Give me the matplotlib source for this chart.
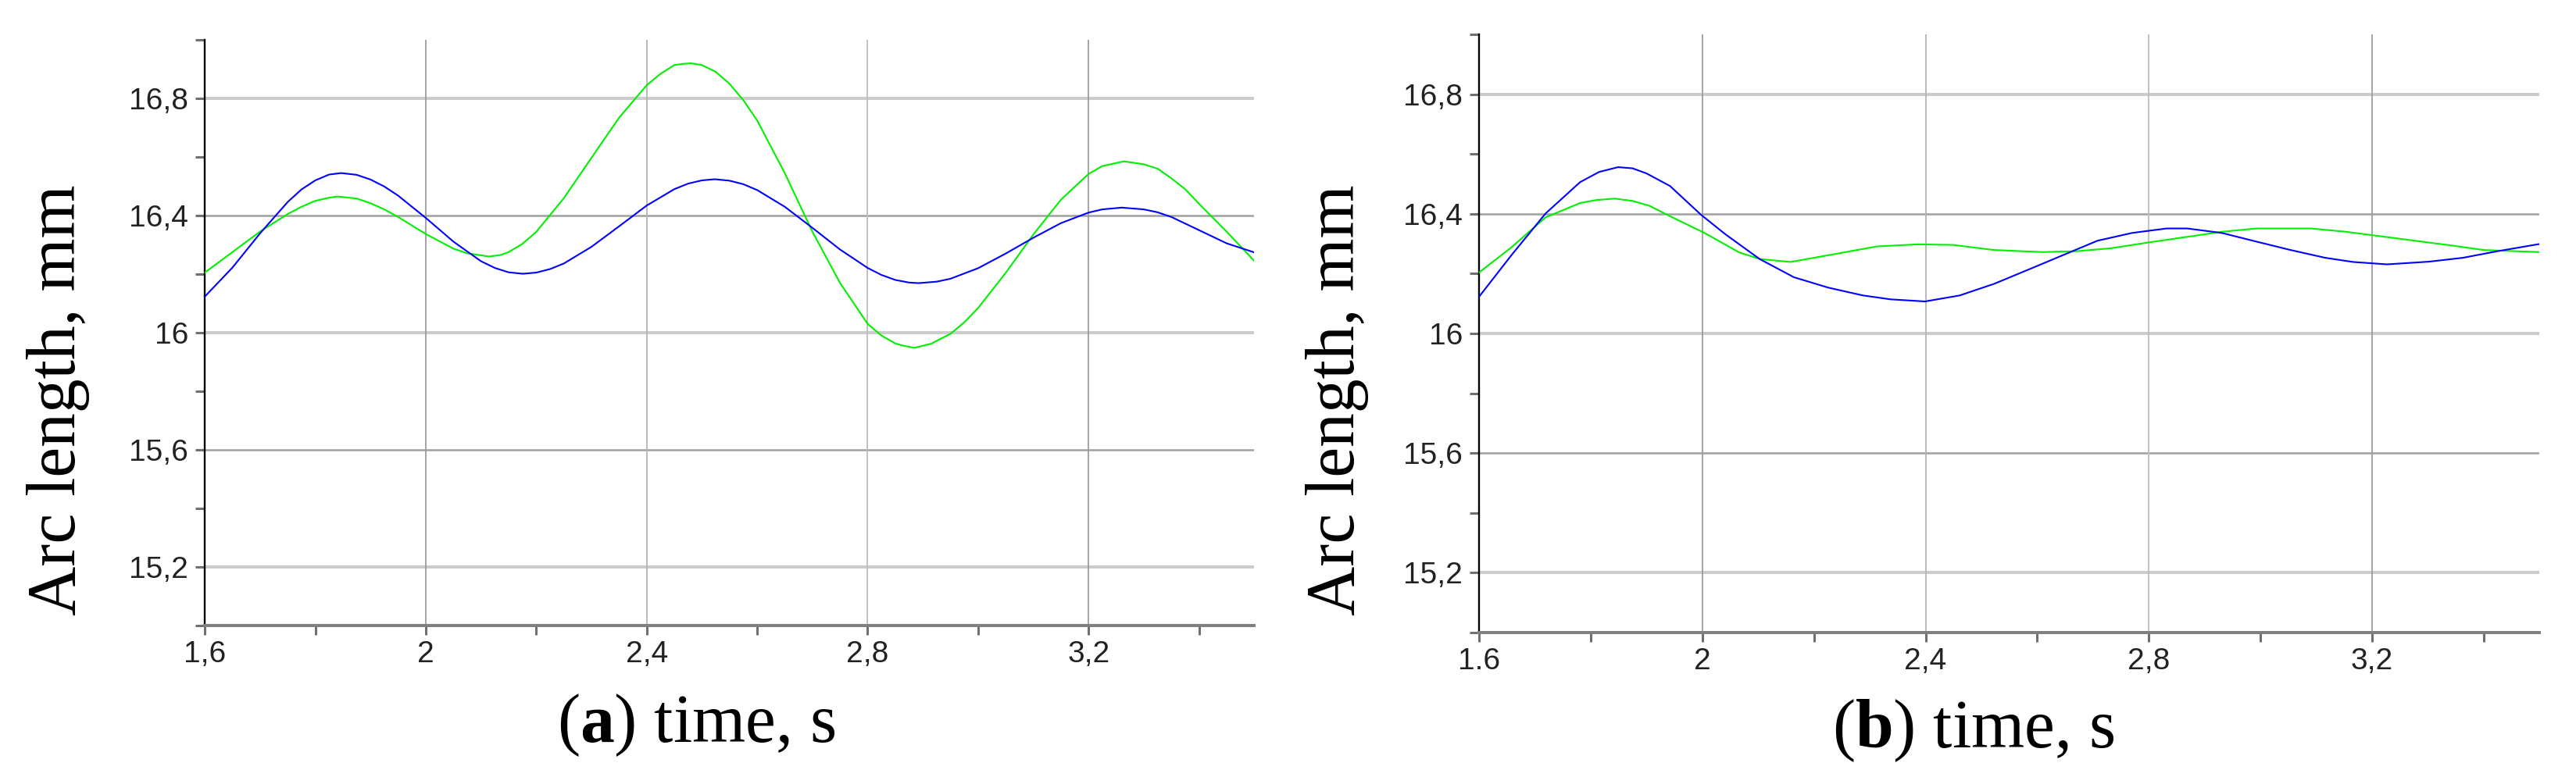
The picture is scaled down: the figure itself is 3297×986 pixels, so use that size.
import matplotlib.pyplot as plt

plt.rcParams['font.family'] = 'Liberation Sans'
plt.rcParams['mathtext.fontset'] = 'custom'
plt.rcParams['mathtext.rm'] = 'Liberation Serif'
plt.rcParams['mathtext.bf'] = 'Liberation Serif:bold'

# ---- panel (a) ----
t_blue_a = [1.60, 1.65, 1.70, 1.75, 1.775, 1.80, 1.825, 1.847, 1.875, 1.90, 1.925, 1.95, 2.00,
            2.05, 2.10, 2.125, 2.15, 2.176, 2.20, 2.225, 2.25, 2.30, 2.35, 2.40, 2.45, 2.475,
            2.50, 2.523, 2.55, 2.575, 2.60, 2.65, 2.70, 2.75, 2.80, 2.825, 2.85, 2.875, 2.892,
            2.925, 2.95, 3.00, 3.05, 3.10, 3.15, 3.20, 3.225, 3.26, 3.30, 3.325, 3.35, 3.40,
            3.45, 3.50]
blue_a = [16.123, 16.222, 16.339, 16.446, 16.489, 16.520, 16.540, 16.545, 16.539, 16.523,
          16.499, 16.468, 16.392, 16.311, 16.244, 16.221, 16.206, 16.201, 16.205, 16.217,
          16.236, 16.293, 16.363, 16.434, 16.490, 16.509, 16.520, 16.524, 16.519, 16.507,
          16.487, 16.430, 16.358, 16.284, 16.221, 16.197, 16.180, 16.171, 16.169, 16.174,
          16.184, 16.220, 16.270, 16.324, 16.374, 16.410, 16.421, 16.427, 16.421, 16.411,
          16.395, 16.350, 16.305, 16.274]

t_green_a = [1.60, 1.65, 1.70, 1.75, 1.775, 1.80, 1.825, 1.841, 1.875, 1.90, 1.925, 1.95, 2.00,
             2.05, 2.075, 2.115, 2.135, 2.15, 2.175, 2.20, 2.25, 2.30, 2.35, 2.40, 2.425, 2.45,
             2.465, 2.48, 2.50, 2.525, 2.55, 2.575, 2.60, 2.65, 2.70, 2.75, 2.80, 2.825, 2.85,
             2.865, 2.885, 2.915, 2.95, 2.975, 3.00, 3.05, 3.10, 3.15, 3.20, 3.225, 3.264, 3.30,
             3.325, 3.35, 3.375, 3.40, 3.45, 3.50]
green_a = [16.205, 16.275, 16.345, 16.405, 16.430, 16.450, 16.461, 16.465, 16.458, 16.442,
           16.421, 16.395, 16.337, 16.287, 16.271, 16.260, 16.265, 16.275, 16.303, 16.344,
           16.459, 16.597, 16.734, 16.845, 16.884, 16.914, 16.918, 16.920, 16.914, 16.891,
           16.850, 16.794, 16.725, 16.545, 16.345, 16.170, 16.030, 15.990, 15.963, 15.955,
           15.948, 15.962, 15.996, 16.035, 16.084, 16.204, 16.335, 16.454, 16.542, 16.569,
           16.585, 16.575, 16.560, 16.527, 16.490, 16.440, 16.345, 16.245]

# ---- panel (b) ----
t_blue_b = [1.60, 1.658, 1.719, 1.781, 1.815, 1.849, 1.875, 1.90, 1.942, 1.9975, 2.041, 2.1025,
            2.164, 2.226, 2.288, 2.3375, 2.399, 2.461, 2.523, 2.585, 2.6465, 2.708, 2.770,
            2.832, 2.869, 2.931, 2.993, 3.054, 3.116, 3.166, 3.227, 3.302, 3.363, 3.425, 3.50]
blue_b = [16.123, 16.262, 16.401, 16.506, 16.540, 16.556, 16.552, 16.535, 16.493, 16.397,
          16.332, 16.249, 16.188, 16.153, 16.127, 16.114, 16.107, 16.127, 16.166, 16.214,
          16.262, 16.310, 16.336, 16.351, 16.351, 16.336, 16.307, 16.279, 16.253, 16.239,
          16.231, 16.240, 16.253, 16.275, 16.299]

t_green_b = [1.60, 1.658, 1.719, 1.781, 1.81, 1.843, 1.875, 1.905, 1.942, 2.004, 2.066, 2.1025,
             2.158, 2.239, 2.313, 2.387, 2.449, 2.523, 2.609, 2.671, 2.733, 2.795, 2.869, 2.931,
             2.993, 3.091, 3.153, 3.215, 3.277, 3.339, 3.400, 3.50]
green_b = [16.204, 16.288, 16.388, 16.436, 16.446, 16.451, 16.443, 16.427, 16.392, 16.336,
           16.271, 16.249, 16.239, 16.266, 16.291, 16.298, 16.296, 16.279, 16.272, 16.275,
           16.285, 16.303, 16.323, 16.340, 16.351, 16.351, 16.340, 16.325, 16.310, 16.295,
           16.279, 16.272]

x_major = [1.6, 2.0, 2.4, 2.8, 3.2]
x_labels_a = ['1,6', '2', '2,4', '2,8', '3,2']
x_labels_b = ['1.6', '2', '2,4', '2,8', '3,2']
x_minor = [1.8, 2.2, 2.6, 3.0, 3.4]
y_major = [15.2, 15.6, 16.0, 16.4, 16.8]
y_labels = ['15,2', '15,6', '16', '16,4', '16,8']
y_minor = [15.0, 15.4, 15.8, 16.2, 16.6, 17.0]


def draw_panel(ax, t_blue, blue, t_green, green, x_labels):
    ax.set_xlim(1.6, 3.5)
    ax.set_ylim(15.0, 17.0)

    # grid: the exported picture alternates light/thick and dark/thin lines
    for i, y in enumerate(y_major):
        if i % 2 == 0:
            ax.axhline(y, color='#cccccc', lw=2.9, zorder=1)
        else:
            ax.axhline(y, color='#a0a0a0', lw=1.8, zorder=1)
    for x, c in zip(x_major[1:], ['#9c9c9c', '#b4b4b4', '#bdbdbd', '#9c9c9c']):
        ax.axvline(x, color=c, lw=1.3, zorder=1)

    ax.plot(t_green, green, color='#00f000', lw=1.5, zorder=3)
    ax.plot(t_blue, blue, color='#0000ff', lw=1.5, zorder=3)

    ax.set_xticks(x_major, x_labels)
    ax.set_xticks(x_minor, minor=True)
    ax.set_yticks(y_major, y_labels)
    ax.set_yticks(y_minor, minor=True)
    ax.tick_params(which='both', direction='out', length=8.6, width=2.2, color='#707070')
    ax.tick_params(axis='both', labelsize=28, labelcolor='#222222')
    ax.tick_params(axis='y', pad=6.5)
    ax.tick_params(axis='x', pad=5)

    ax.spines['top'].set_visible(False)
    ax.spines['right'].set_visible(False)
    ax.spines['left'].set_color('black')
    ax.spines['left'].set_linewidth(1.7)
    ax.spines['bottom'].set_color('#808080')
    ax.spines['bottom'].set_linewidth(2.9)
    ax.spines['bottom'].set_zorder(4)


fig = plt.figure(figsize=(32.97, 9.86), dpi=100)
fig.patch.set_facecolor('white')

ax1 = fig.add_axes([0.0795, 0.1879, 0.4074, 0.7603])
ax2 = fig.add_axes([0.5742, 0.1785, 0.4116, 0.7769])

draw_panel(ax1, t_blue_a, blue_a, t_green_a, green_a, x_labels_a)
draw_panel(ax2, t_blue_b, blue_b, t_green_b, green_b, x_labels_b)

serif = 'Liberation Serif'
fig.text(96 / 3297, 1 - 512 / 986, 'Arc length, mm', family=serif, fontsize=63,
         rotation=90, rotation_mode='anchor', ha='center', va='baseline')
fig.text(1733 / 3297, 1 - 512 / 986, 'Arc length, mm', family=serif, fontsize=63,
         rotation=90, rotation_mode='anchor', ha='center', va='baseline')

fig.text(891 / 3297, 1 - 950 / 986, r'($\mathbf{a}$) time, s', family=serif, fontsize=63,
         ha='center', va='baseline')
fig.text(2526 / 3297, 1 - 957 / 986, r'($\mathbf{b}$) time, s', family=serif, fontsize=63,
         ha='center', va='baseline')

fig.savefig('out.png', dpi=100)
